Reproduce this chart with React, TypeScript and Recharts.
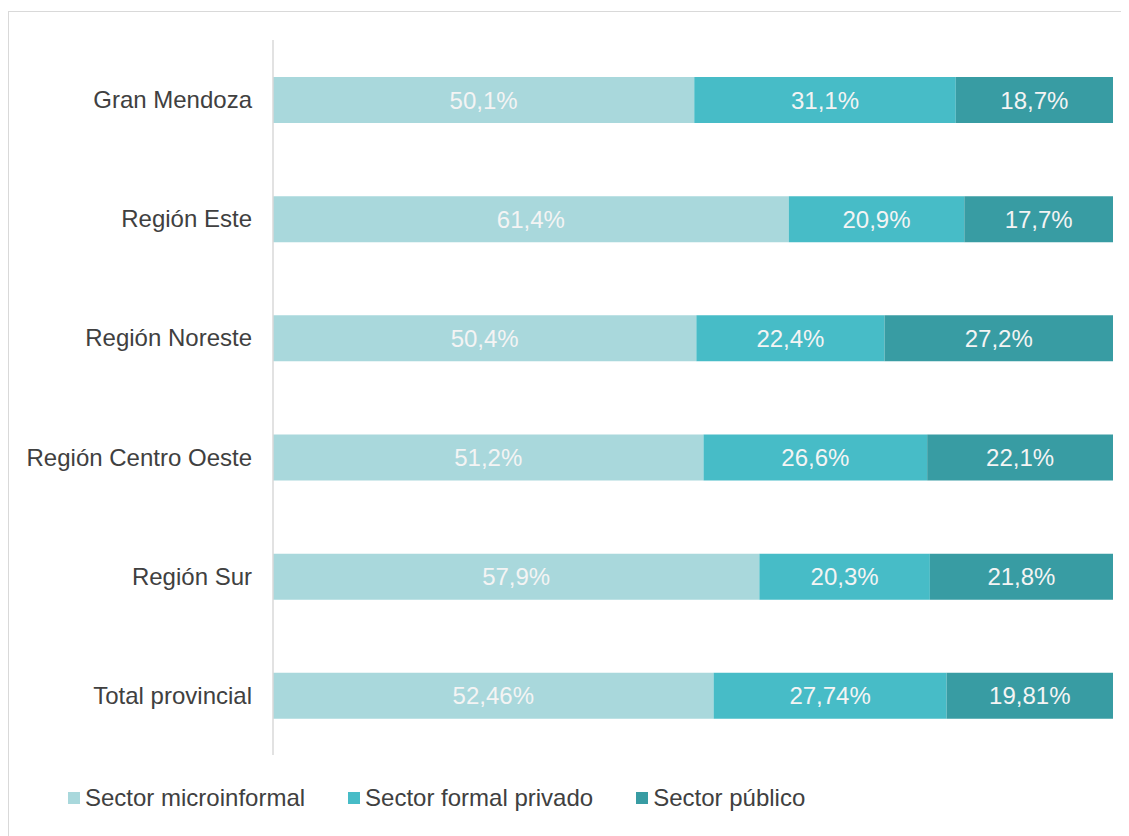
import { useEffect } from 'react';
import { BarChart, Bar, XAxis, YAxis, LabelList } from 'recharts';

const categories = ['Gran Mendoza', 'Región Este', 'Región Noreste', 'Región Centro Oeste', 'Región Sur', 'Total provincial'];
const microinformal = [50.1, 61.4, 50.4, 51.2, 57.9, 52.46];
const formalPrivado = [31.1, 20.9, 22.4, 26.6, 20.3, 27.74];
const publico = [18.7, 17.7, 27.2, 22.1, 21.8, 19.81];

const SERIES = [
  { key: 'micro', name: 'Sector microinformal', color: '#A9D8DC', values: microinformal },
  { key: 'formal', name: 'Sector formal privado', color: '#47BCC7', values: formalPrivado },
  { key: 'publico', name: 'Sector público', color: '#389CA3', values: publico },
];

const FONT = '"Liberation Sans", Arial, sans-serif';
const fmt = (v: number) => `${String(v).replace('.', ',')}%`;

const data = categories.map((name, i) => {
  const row: Record<string, string | number> = { name };
  SERIES.forEach((s) => {
    row[s.key] = s.values[i];
    row[`${s.key}Label`] = fmt(s.values[i]);
  });
  return row;
});

export default function App() {
  // frame runs off the page edges like the cropped original, so no scrollbars
  useEffect(() => {
    document.documentElement.style.overflow = 'hidden';
    document.body.style.overflow = 'hidden';
  }, []);

  return (
    <div style={{ paddingTop: 3 }}>
      <div
        style={{
          position: 'relative',
          width: 1125,
          height: 826,
          borderTop: '1px solid #d9d9d9',
          borderLeft: '1px solid #d9d9d9',
          fontFamily: FONT,
        }}
      >
        <BarChart
          width={1110}
          height={760}
          data={data}
          layout="vertical"
          stackOffset="expand"
          margin={{ top: 28, right: 6, bottom: 17, left: 0 }}
        >
          <XAxis type="number" domain={[0, 1]} hide />
          <YAxis
            type="category"
            dataKey="name"
            width={264}
            tickSize={0}
            tickMargin={21}
            axisLine={{ stroke: '#d9d9d9', strokeWidth: 1.5 }}
            tickLine={false}
            tick={{ fill: '#404040', fontSize: 24, fontFamily: FONT }}
          />
          {SERIES.map((s) => (
            <Bar key={s.key} dataKey={s.key} stackId="a" fill={s.color} barSize={46} isAnimationActive={false}>
              <LabelList
                dataKey={`${s.key}Label`}
                position="center"
                fill="#f4f4f4"
                fontSize={24}
                fontFamily={FONT}
              />
            </Bar>
          ))}
        </BarChart>
        <div
          style={{
            position: 'absolute',
            left: 59,
            top: 772,
            display: 'flex',
            alignItems: 'center',
            fontSize: 24,
            color: '#404040',
            whiteSpace: 'nowrap',
          }}
        >
          {SERIES.map((s, i) => (
            <div key={s.key} style={{ display: 'flex', alignItems: 'center', marginLeft: i === 0 ? 0 : 43 }}>
              <span style={{ width: 12, height: 12, background: s.color, marginRight: 5, display: 'inline-block' }} />
              <span>{s.name}</span>
            </div>
          ))}
        </div>
      </div>
    </div>
  );
}
